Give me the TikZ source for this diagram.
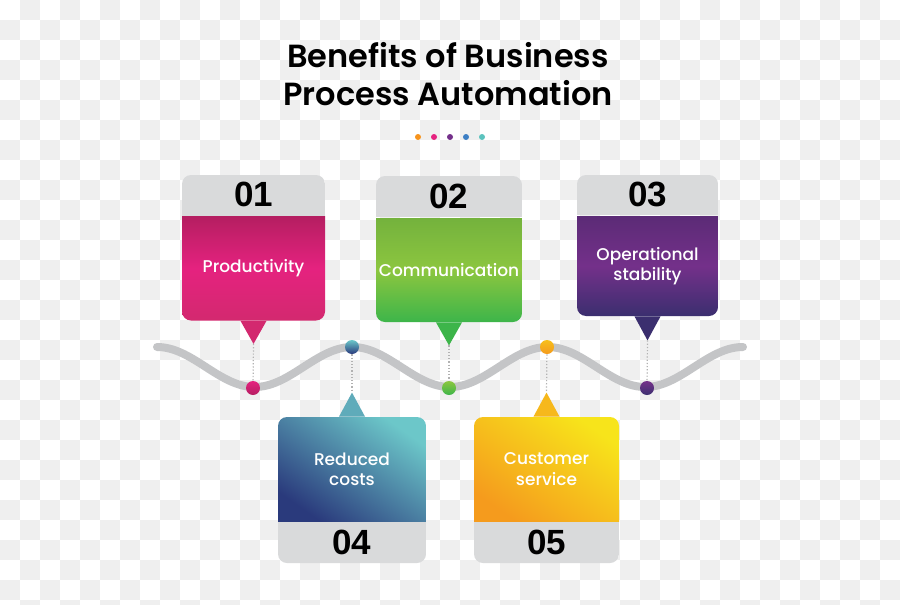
\documentclass[tikz,border=0pt]{standalone}
\usepackage{fontspec}
\setmainfont{Poppins}
\newfontfamily\titlefont{Poppins SemiBold}
\newfontfamily\cardfont{Poppins Medium}
\newfontfamily\numfont{Liberation Sans}
\usetikzlibrary{positioning}

\definecolor{checkgray}{HTML}{EFEFEF}
\definecolor{headgray}{HTML}{D9DADB}
\definecolor{wavegray}{HTML}{C4C5C7}
\definecolor{pinkdark}{HTML}{B51E61}
\definecolor{pinkmid}{HTML}{E5227F}
\definecolor{pinklow}{HTML}{D3296F}
\definecolor{greendark}{HTML}{74B23D}
\definecolor{greenmid}{HTML}{8CC63F}
\definecolor{greenlow}{HTML}{3DB54A}
\definecolor{purpledark}{HTML}{5B2B76}
\definecolor{purplemid}{HTML}{74308A}
\definecolor{purplelow}{HTML}{3B2F6F}
\definecolor{bluedark}{HTML}{2A3A7C}
\definecolor{bluelight}{HTML}{6CC7C9}
\definecolor{yellowdark}{HTML}{F59B1D}
\definecolor{yellowlight}{HTML}{F7E41B}
\definecolor{dotorange}{HTML}{F7941D}
\definecolor{dotblue}{HTML}{3C7EC4}
\definecolor{dotteal}{HTML}{5CC3BE}

\begin{document}
\begin{tikzpicture}[x=0.5pt,y=-0.5pt,
  cardbody/.style={
    rectangle,
    inner sep=0pt,
    minimum height=52pt,
    text=white,
    align=center,
    font=\cardfont\fontsize{8.5}{10.2}\selectfont,
  },
  cardnum/.style={
    rectangle,
    inner sep=0pt,
    fill=headgray,
    minimum height=21pt,
    text=black,
    font=\numfont\bfseries\fontsize{17.5}{18}\selectfont,
  },
  wavedot/.style={circle,inner sep=0pt,minimum size=7pt},
  tdot/.style={circle,inner sep=0pt,minimum size=3pt},
  guide/.style={gray!60,densely dotted,line width=0.6pt}]
\useasboundingbox (0,0) rectangle (900,605);
% checker background
\fill[white] (0,0) rectangle (900,605);
\begin{scope}
  \clip (0,0) rectangle (900,605);
  \foreach \i in {0,...,44}
    \foreach \j in {0,...,30}{
      \pgfmathtruncatemacro\odd{mod(\i+\j,2)}
      \ifnum\odd=1 \fill[checkgray] (20*\i,20*\j) rectangle +(20,20); \fi
    }
\end{scope}

% title
\node[align=center,font=\titlefont\fontsize{16}{19}\selectfont] (title) at (448,74)
  {Benefits of Business\\Process Automation};
\foreach \c [count=\i] in {dotorange,pinkmid,purplemid,dotblue,dotteal}
  \node[tdot,fill=\c] (tdot\i) at (402+16*\i,137) {};

% wave
\draw[wavegray,line width=4pt,line cap=round]
  plot[domain=157:743,samples=120,smooth] (\x,{367-20*cos(1.8433*(\x-157))});

% 01
\begin{scope}
  \clip[rounded corners=4.5pt] (182,175) rectangle (325,320.5);
  \node[cardbody,minimum width=71.5pt,top color=pinkdark,bottom color=pinklow,middle color=pinkmid]
    (prod) at (253.5,268.5) {Productivity};
  \node[cardnum,minimum width=71.5pt,above=0pt of prod] (n01) {01};
\end{scope}
\coordinate (t1) at ([yshift=-11.5pt]prod.south);
\fill[pinklow] ([xshift=-6.5pt]prod.south) -- (t1) -- ([xshift=6.5pt]prod.south) -- cycle;

% 02
\begin{scope}
  \clip[rounded corners=4.5pt] (376,176) rectangle (522,322);
  \node[cardbody,minimum width=73pt,top color=greendark,bottom color=greenlow,middle color=greenmid]
    (comm) at (449,270) {Communication};
  \node[cardnum,minimum width=73pt,above=0pt of comm] (n02) {02};
\end{scope}
\coordinate (t3) at ([yshift=-11.5pt]comm.south);
\fill[greenlow] ([xshift=-6.5pt]comm.south) -- (t3) -- ([xshift=6.5pt]comm.south) -- cycle;

% 03
\begin{scope}
  \clip[rounded corners=4.5pt] (577,175) rectangle (718,316);
  \node[cardbody,minimum width=70.5pt,minimum height=50pt,
    top color=purpledark,bottom color=purplelow,middle color=purplemid]
    (oper) at (647.5,266) {Operational\\stability};
  \node[cardnum,minimum width=70.5pt,above=0pt of oper] (n03) {03};
\end{scope}
\coordinate (t5) at ([yshift=-12pt]oper.south);
\fill[purplelow] ([xshift=-6.5pt]oper.south) -- (t5) -- ([xshift=6.5pt]oper.south) -- cycle;

% 04
\begin{scope}
  \clip[rounded corners=4.5pt] (278,417) rectangle (426,563);
  \node[cardbody,minimum width=74pt,top color=bluelight,bottom color=bluedark,shading angle=-35]
    (cost) at (352,469) {Reduced\\costs};
  \node[cardnum,minimum width=74pt,below=0pt of cost] (n04) {04};
\end{scope}
\coordinate (t2) at ([yshift=12pt]cost.north);
\fill[bluelight!80!bluedark] ([xshift=-6.5pt]cost.north) -- (t2) -- ([xshift=6.5pt]cost.north) -- cycle;

% 05
\begin{scope}
  \clip[rounded corners=4.5pt] (474,417) rectangle (619,563);
  \node[cardbody,minimum width=72.5pt,top color=yellowlight,bottom color=yellowdark,shading angle=-35]
    (cust) at (546.5,469) {Customer\\service};
  \node[cardnum,minimum width=72.5pt,below=0pt of cust] (n05) {05};
\end{scope}
\coordinate (t4) at ([yshift=12pt]cust.north);
\fill[yellowlight!40!yellowdark] ([xshift=-6.5pt]cust.north) -- (t4) -- ([xshift=6.5pt]cust.north) -- cycle;

% dots on the wave
\node[wavedot,top color=pinkmid,bottom color=pinkdark] (d1) at (253,388) {};
\node[wavedot,top color=bluelight,bottom color=bluedark] (d2) at (352,347) {};
\node[wavedot,top color=greenmid,bottom color=greenlow] (d3) at (449,388) {};
\node[wavedot,top color=yellowlight!50!yellowdark,bottom color=yellowdark] (d4) at (547,347) {};
\node[wavedot,top color=purplemid,bottom color=purplelow] (d5) at (647,388) {};

\path (t1) edge[guide] (d1)
  (d2) edge[guide] (t2)
  (t3) edge[guide] (d3)
  (d4) edge[guide] (t4)
  (t5) edge[guide] (d5);
\end{tikzpicture}
\end{document}
